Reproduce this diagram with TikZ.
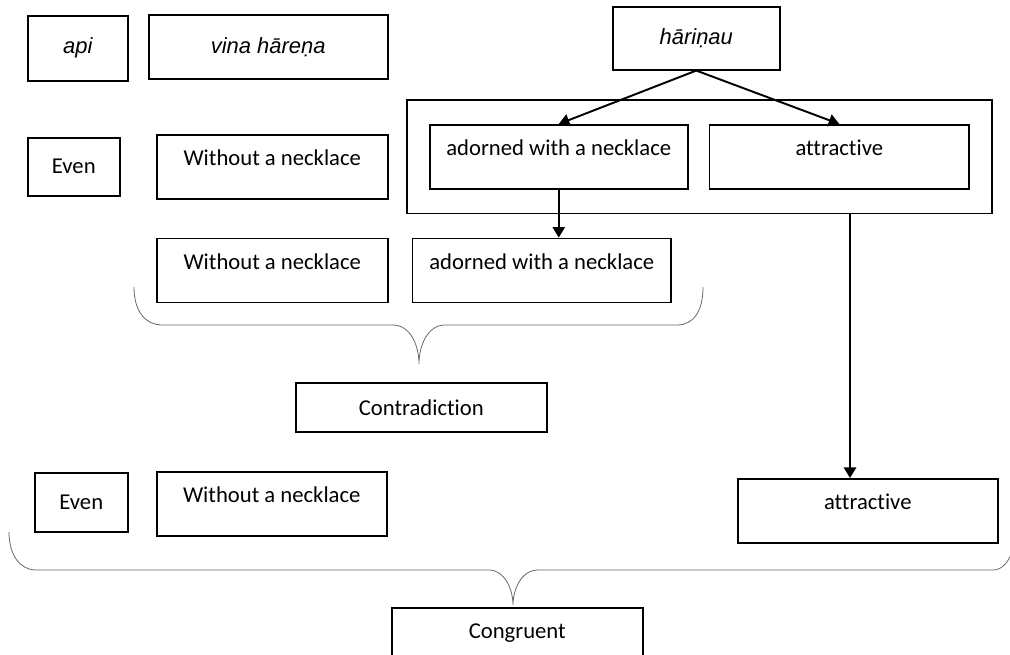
\documentclass[tikz,border=0pt]{standalone}
\usepackage{fontspec}
\setmainfont{Carlito}[Ligatures={NoCommon}]
\newfontfamily\translitfont{Liberation Sans}
\usetikzlibrary{arrows.meta, positioning, fit}

\begin{document}
\begin{tikzpicture}[
    x = 0.02cm, y = -0.02cm,
    box/.style = {
        rectangle, draw=black, line width=0.9pt,
        inner sep = 0pt, anchor = north west,
        font = \fontsize{12.9}{14}\selectfont
    },
    midbox/.style = { box, align = center },
    topbox/.style = { box, text height = 0.62cm, text depth = 0.66cm },
    sktbox/.style = { midbox, font = \translitfont\itshape\fontsize{12.5}{14}\selectfont },
    arr/.style   = { -{Triangle[width=7pt, length=6pt]}, line width=1.1pt },
    brace/.style = { draw=black!60, line width=0.45pt },
]

\useasboundingbox (0,0) rectangle (1010,655);

%% ── Top row: the words of the verse ──────────────────────────────────────
\node[sktbox, minimum width=2cm,    minimum height=1.3cm]  (api)  at (27,15)  {api};
\node[sktbox, minimum width=4.78cm, minimum height=1.28cm] (vina) at (148,14) {vina hāreṇa};
\node[sktbox, minimum width=3.34cm, minimum height=1.26cm] (hari) at (612,6)  {hāriṇau};

%% ── First reading ───────────────────────────────────────────────────────
\node[midbox, minimum width=1.84cm, minimum height=1.16cm] (even1) at (27,137) {Even};
\node[topbox, minimum width=4.62cm] (without1) at (156,134) {Without a necklace};

\node[topbox, minimum width=5.16cm] (adorn1) at (429,124) {adorned with a necklace};
\node[topbox, minimum width=5.2cm, right=0.4cm of adorn1] (attr1) {attractive};

\node[draw, line width=0.9pt, fit=(adorn1)(attr1),
      inner xsep=0.44cm, inner ysep=0.48cm] (outer) {};

\draw[arr] (hari.south) -- (adorn1.north);
\draw[arr] (hari.south) -- (attr1.north);

%% ── Second row and contradiction ───────────────────────────────────────
\node[topbox, minimum width=4.62cm, below=0.76cm of without1] (without2) {Without a necklace};
\node[topbox, minimum width=5.18cm, right=0.46cm of without2] (adorn2) {adorned with a necklace};

\draw[arr] (adorn1.south) -- (adorn1.south |- adorn2.north);

\draw[brace] (134,287) .. controls (134,312) and (146,325) .. (162,325)
    -- (393,325) .. controls (410,325) and (419,345) .. (419,364)
    .. controls (419,345) and (428,325) .. (445,325)
    -- (677,325) .. controls (693,325) and (703,312) .. (703,287);

\node[midbox, minimum width=5.02cm, minimum height=0.98cm] (contra) at (295,382) {Contradiction};

%% ── Third row and congruence ───────────────────────────────────────────
\node[midbox, minimum width=1.86cm, minimum height=1.18cm] (even2) at (34,472) {Even};
\node[topbox, minimum width=4.6cm] (without3) at (156,471) {Without a necklace};
\node[topbox, minimum width=5.2cm] (attr2) at (737,478) {attractive};

\coordinate (dropx) at (850,0);
\draw[arr] (outer.south -| dropx) -- (attr2.north -| dropx);

\draw[brace] (9,532) .. controls (9,555) and (20,570) .. (36,570)
    -- (489,570) .. controls (505,570) and (513,590) .. (513,605)
    .. controls (513,590) and (521,570) .. (538,570)
    -- (993,570) .. controls (1002,570) and (1010,562) .. (1014,545);

\node[topbox, minimum width=5.02cm] (congr) at (391,607) {Congruent};

\end{tikzpicture}
\end{document}
